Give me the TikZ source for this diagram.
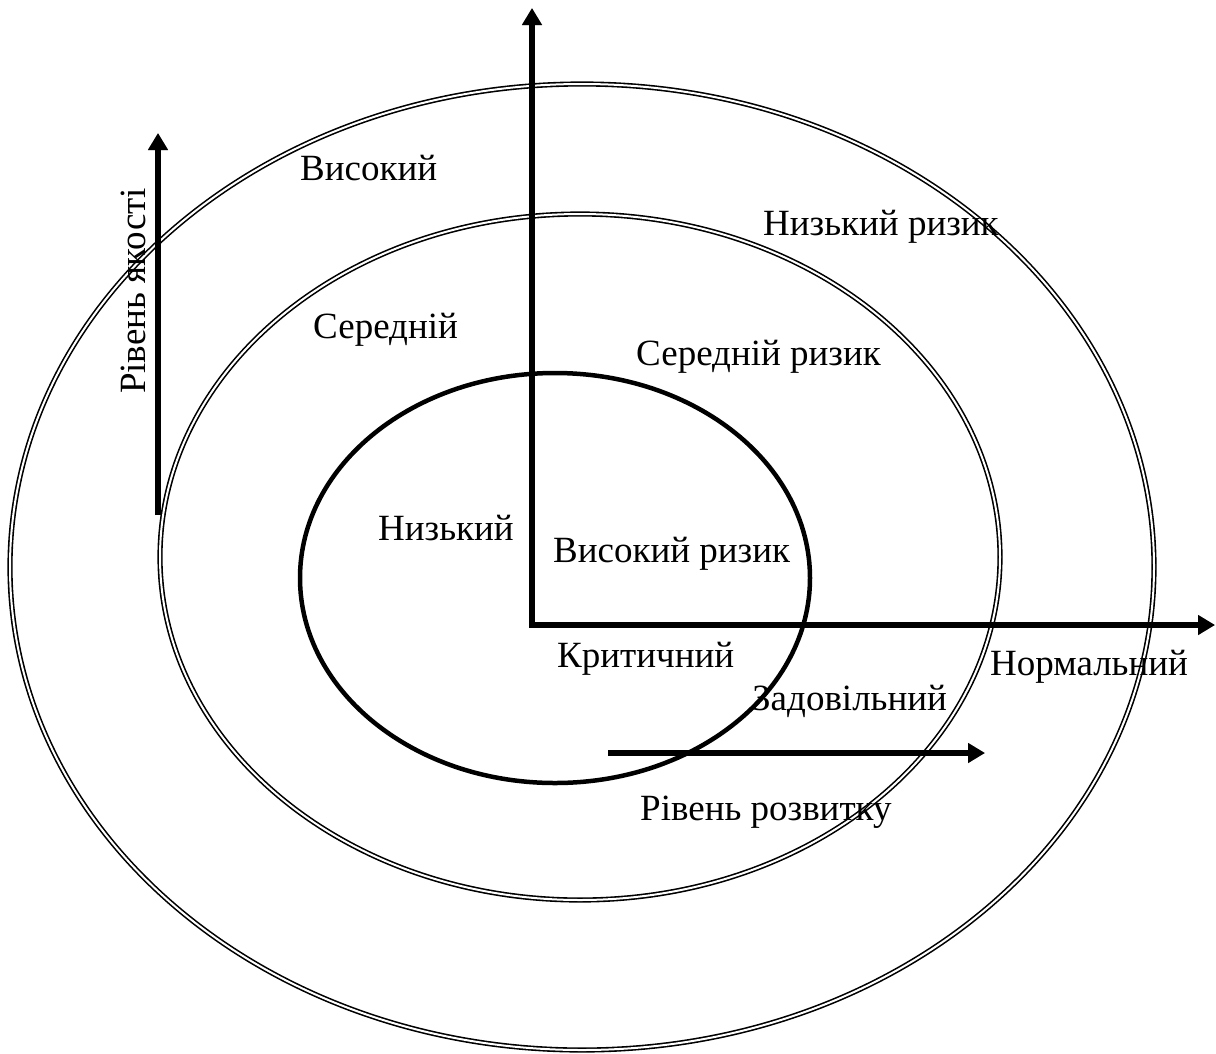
\documentclass[tikz,border=0pt]{standalone}
\usepackage{fontspec}
\setmainfont{Liberation Serif}
\newfontfamily\tnrfont{Liberation Serif}
\usetikzlibrary{arrows.meta}
\begin{document}
\begin{tikzpicture}[x=1pt,y=-1pt,
  ring/.style={draw=black, double=white, line width=1.6pt, double distance=2pt},
  core/.style={draw=black, line width=4.5pt},
  axis/.style={line width=5.5pt, -{Triangle[length=17pt,width=19pt]}},
  axshadow/.style={axis, draw=black!35, fill=black!35, shift={(2,3)}},
  lbl/.style={inner sep=0pt, anchor=base west, font=\tnrfont\fontsize{37}{42}\selectfont}]
\useasboundingbox (0,0) rectangle (1216,1053);
% rings
\draw[ring] (582,567) ellipse [x radius=572, y radius=483];
\draw[ring] (580,557) ellipse [x radius=420, y radius=343];
\draw[core] (555,578) ellipse [x radius=255, y radius=205];
% coordinates
\coordinate (O) at (532,625);
\coordinate (ytip) at (532,8);
\coordinate (xtip) at (1215,625);
\coordinate (q0) at (158,515);
\coordinate (q1) at (158,133);
\coordinate (d0) at (608,753);
\coordinate (d1) at (985,753);
% shadows
\draw[axshadow] (O) -- (ytip);
\draw[axshadow] (O) -- (xtip);
\draw[axshadow] (q0) -- (q1);
\draw[axshadow] (d0) -- (d1);
% axes
\draw[axis] (O) -- (ytip);
\draw[axis] ([xshift=-2.75pt]O) -- (xtip);
\draw[axis] (q0) -- (q1);
\draw[axis] (d0) -- (d1);
% labels
\node[lbl] (vys) at (300,180) {Високий};
\node[lbl] (nr) at (763,235) {Низький ризик};
\node[lbl] (ser) at (313,338) {Середній};
\node[lbl] (sr) at (636,365) {Середній ризик};
\node[lbl] (niz) at (378,540) {Низький};
\node[lbl] (vr) at (553,562) {Високий ризик};
\node[lbl] (kr) at (557,667) {Критичний};
\node[lbl] (norm) at (990,675) {Нормальний};
\node[lbl] (zad) at (752,710) {Задовільний};
\node[lbl] (rr) at (640,820) {Рівень розвитку};
\node[lbl, anchor=base, rotate=90] (rya) at (145,291) {Рівень якості};
\end{tikzpicture}
\end{document}
